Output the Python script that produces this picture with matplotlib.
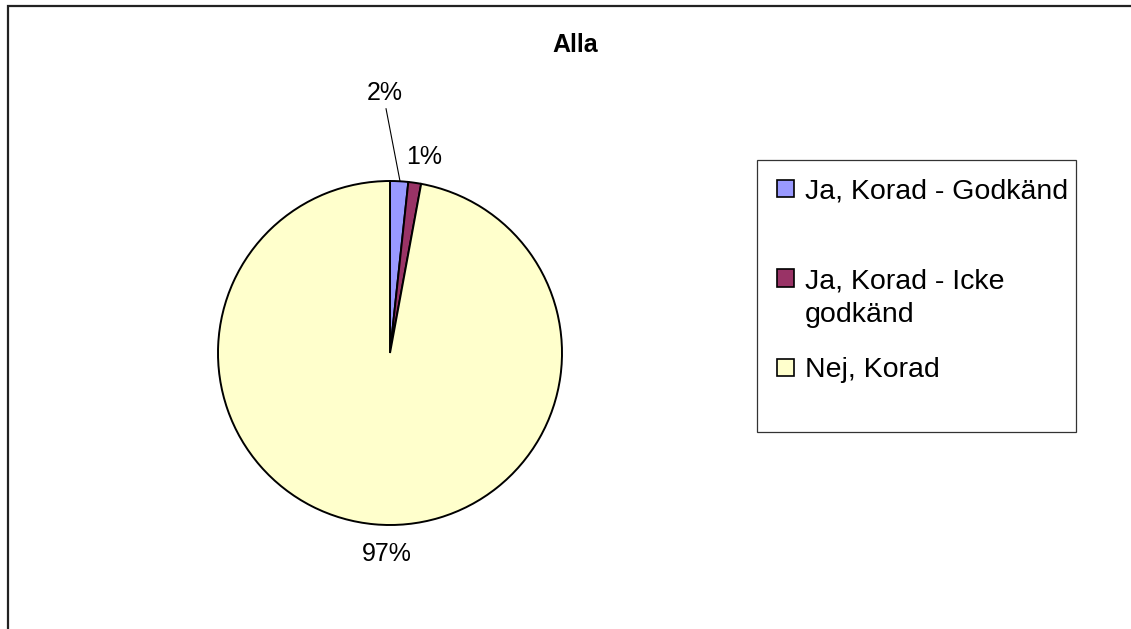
import matplotlib
matplotlib.use("Agg")
import matplotlib.pyplot as plt
from matplotlib.patches import Rectangle
from matplotlib.lines import Line2D

plt.rcParams["font.family"] = ["Liberation Sans", "DejaVu Sans"]

# data
categories = ["Ja, Korad - Godkänd", "Ja, Korad - Icke\ngodkänd", "Nej, Korad"]
values = [1.7, 1.2, 97.1]
pct_labels = ["2%", "1%", "97%"]
colors = ["#9999FF", "#993366", "#FFFFCC"]

W, H = 1131, 629
fig = plt.figure(figsize=(W / 100, H / 100), dpi=100)
fig.patch.set_facecolor("white")


def px(x, y):
    # pixel position (top-left origin) -> figure fraction
    return x / W, 1 - y / H


# outer chart frame (runs off right and bottom)
fig.patches.append(Rectangle(px(8, 700), 1300 / W, 694 / H, transform=fig.transFigure,
                             fill=False, edgecolor="#222222", linewidth=1.6))

# pie axes, centre (390, 353), radius 172 px
cx, cy, r = 390, 353, 172
x0, y0 = px(cx - r, cy + r)
ax = fig.add_axes([x0, y0, 2 * r / W, 2 * r / H])
ax.pie(values, colors=colors, startangle=90, counterclock=False, radius=1,
       wedgeprops=dict(edgecolor="black", linewidth=1.4))
ax.set_xlim(-1, 1)
ax.set_ylim(-1, 1)
ax.set_aspect("auto")
ax.axis("off")

# percentage labels (data units of the pie axes)
label_pos = [(-0.03, 1.51), (0.2, 1.14), (-0.017, -1.17)]
for txt, (lx, ly) in zip(pct_labels, label_pos):
    ax.text(lx, ly, txt, ha="center", va="center", fontsize=18, color="black")
ax.add_line(Line2D([-0.023, 0.058], [1.42, 1.0], color="black", linewidth=0.8, clip_on=False))

# title
fig.text(*px(575, 45), "Alla", ha="center", va="center", fontsize=18, fontweight="bold")

# legend drawn by hand to match the uneven spacing
fig.patches.append(Rectangle(px(757, 432), (1076 - 757) / W, (432 - 160) / H,
                             transform=fig.transFigure, fill=False,
                             edgecolor="#333333", linewidth=0.9))
entry_y = [188, 278, 367]
sq = 17
for lab, col, ey in zip(categories, colors, entry_y):
    fig.patches.append(Rectangle(px(777, ey + sq / 2), sq / W, sq / H,
                                 transform=fig.transFigure, facecolor=col,
                                 edgecolor="black", linewidth=1.2))
    for i, line in enumerate(lab.split("\n")):
        fig.text(*px(805, ey + 34 * i), line, ha="left", va="center_baseline",
                 fontsize=20.5, color="black")

fig.savefig("out.png", dpi=100, facecolor="white")
